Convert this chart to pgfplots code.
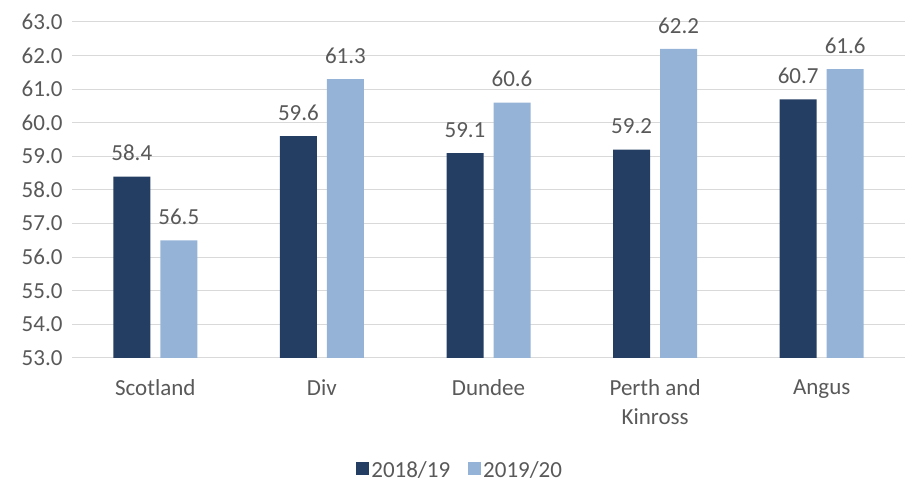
\documentclass[border=0pt]{standalone}
\usepackage{fontspec}
\setmainfont{Carlito}
\usepackage{pgfplots}
\pgfplotsset{compat=1.18}
\definecolor{darkbar}{RGB}{36,62,99}
\definecolor{lightbar}{RGB}{149,179,215}
\definecolor{txt}{RGB}{89,89,89}
\definecolor{gridgray}{RGB}{217,217,217}
\begin{document}
\begin{tikzpicture}
\path (0,0) rectangle (913pt,486pt);
\begin{axis}[
  at={(72pt,128pt)}, anchor=south west,
  scale only axis, width=833pt, height=336pt,
  ybar=10pt, bar width=37pt,
  xmin=-0.5, xmax=4.5, ymin=53, ymax=63,
  ytick={53,54,...,63},
  xtick=data,
  xticklabels={Scotland,Div,Dundee,{Perth and\\Kinross},Angus},
  axis line style={draw=none},
  tick style={draw=none},
  xmajorgrids=false, ymajorgrids=true,
  major grid style={draw=gridgray, line width=1pt},
  font=\fontsize{23}{29}\selectfont,
  tick label style={text=txt},
  /pgf/number format/.cd, fixed, fixed zerofill, precision=1, assume math mode=true,
  /pgfplots/.cd,
  yticklabel style={anchor=east, xshift=-6pt},
  xticklabel style={align=center, anchor=north, yshift=-14pt},
  nodes near coords,
  nodes near coords style={text=txt, font=\fontsize{23}{29}\selectfont, yshift=12pt},
  legend columns=2,
  legend style={at={(axis description cs:0.466,-0.333)}, anchor=center, draw=none, fill=none,
    font=\fontsize{23}{29}\selectfont, text=txt,
    /tikz/every even column/.append style={column sep=16pt}},
  legend image code/.code={\fill[#1] (0pt,-5pt) rectangle (13pt,8pt);},
]
\addplot[fill=darkbar, draw=none] coordinates {(0,58.4) (1,59.6) (2,59.1) (3,59.2) (4,60.7)};
\addplot[fill=lightbar, draw=none] coordinates {(0,56.5) (1,61.3) (2,60.6) (3,62.2) (4,61.6)};
\legend{2018/19,2019/20}
\end{axis}
\end{tikzpicture}
\end{document}
